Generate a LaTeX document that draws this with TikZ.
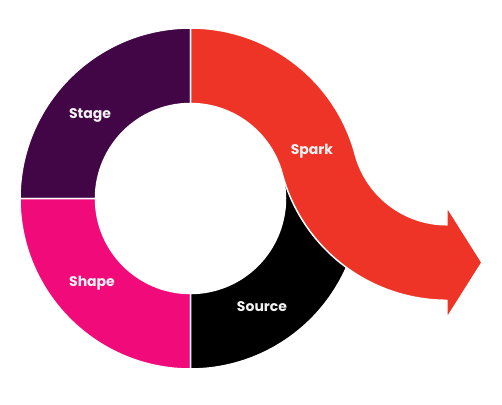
\documentclass[tikz,border=0pt]{standalone}
\usepackage{fontspec}
\setmainfont{Poppins}
\usetikzlibrary{calc}
\definecolor{stagepurple}{RGB}{66,5,70}
\definecolor{sparkred}{RGB}{238,52,38}
\definecolor{shapepink}{RGB}{240,10,122}
\definecolor{textwhite}{RGB}{242,242,242}
\begin{document}
\begin{tikzpicture}[x=1bp, y=1bp,
    segment/.style={draw=white, line width=1.5pt, line join=round},
    segtext/.style={text=textwhite, font=\bfseries\fontsize{14bp}{16bp}\selectfont}]
    \useasboundingbox (0,0) rectangle (502,404);
    % ring centre and centre of the second bend
    \coordinate (ring) at (190.5,205.5);
    \coordinate (bend) at (446.96,274.22);
    % ring segments
    \fill[stagepurple, segment] ($(ring)+(90:170.5)$) arc[start angle=90, end angle=180, radius=170.5]
        -- ($(ring)+(180:95)$) arc[start angle=180, end angle=90, radius=95] -- cycle;
    \fill[shapepink, segment] ($(ring)+(180:170.5)$) arc[start angle=180, end angle=270, radius=170.5]
        -- ($(ring)+(270:95)$) arc[start angle=270, end angle=180, radius=95] -- cycle;
    \fill[black, segment] ($(ring)+(270:170.5)$) arc[start angle=270, end angle=375, radius=170.5]
        -- ($(ring)+(15:95)$) arc[start angle=15, end angle=-90, radius=95] -- cycle;
    % the arrow
    \fill[sparkred, segment] ($(ring)+(90:170.5)$) arc[start angle=90, end angle=15, radius=170.5]
        arc[start angle=195, end angle=270, radius=95]
        -- (446.96,197) -- (482,141.5) -- (446.96,86) -- (446.96,103.72)
        arc[start angle=270, end angle=195, radius=170.5]
        arc[start angle=15, end angle=90, radius=95] -- cycle;
    % labels
    \node[segtext] (stage) at (90,289) {Stage};
    \node[segtext] (spark) at (312,253) {Spark};
    \node[segtext] (shape) at (92,121) {Shape};
    \node[segtext] (source) at (262,97) {Source};
\end{tikzpicture}
\end{document}
